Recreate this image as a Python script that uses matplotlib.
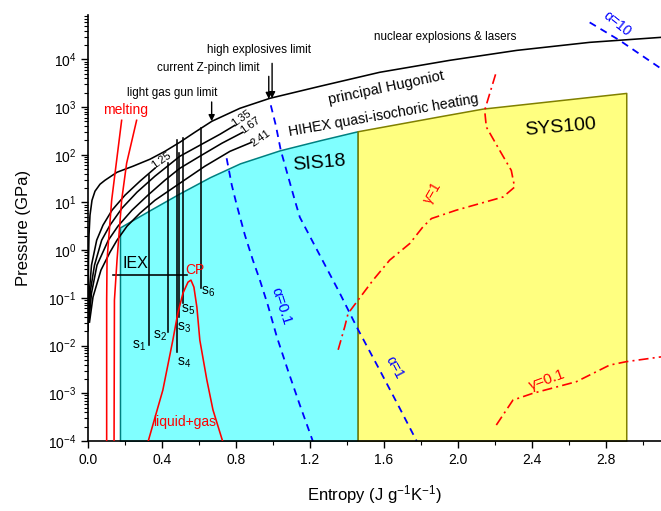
import matplotlib
matplotlib.use('Agg')
import matplotlib.pyplot as plt
from matplotlib.ticker import LogLocator, MultipleLocator, NullFormatter

plt.rcParams['font.family'] = ['Liberation Sans', 'DejaVu Sans']
plt.rcParams['mathtext.fontset'] = 'custom'
plt.rcParams['mathtext.rm'] = 'Liberation Sans'
plt.rcParams['mathtext.it'] = 'Liberation Sans:italic'

# principal Hugoniot
hug_s = [0.001, 0.0016, 0.0027, 0.0054, 0.0108, 0.0216, 0.0378, 0.0649, 0.0919, 0.157, 0.243,
         0.335, 0.416, 0.497, 0.578, 0.670, 0.822, 0.984, 1.254, 1.578, 1.957, 2.319, 2.714, 3.10]
hug_p = [0.021, 0.0897, 0.618, 2.06, 5.41, 11.1, 17.2, 24.1, 29.2, 43, 57.4,
         80.5, 118, 183, 296, 503, 942, 1524, 2720, 5350, 9530, 15400, 22700, 28900]

# porous Hugoniots
h125_s = [0.0027, 0.0081, 0.0189, 0.047, 0.081, 0.130, 0.200, 0.281, 0.362]
h125_p = [0.0436, 0.145, 0.485, 1.62, 3.34, 6.89, 14.2, 27.9, 52.1]
h135_s = [0.0043, 0.0135, 0.0351, 0.074, 0.119, 0.184, 0.265, 0.362, 0.497, 0.605, 0.714, 0.795]
h135_p = [0.0377, 0.145, 0.485, 1.62, 3.34, 7.59, 16.4, 35.5, 93, 158, 269, 415]
h167_s = [0.0054, 0.0189, 0.0486, 0.110, 0.162, 0.238, 0.324, 0.416, 0.497, 0.605, 0.724, 0.838]
h167_p = [0.0342, 0.1256, 0.485, 1.62, 3.18, 6.89, 14.2, 29.2, 52.1, 93, 174, 296]
h241_s = [0.0081, 0.027, 0.070, 0.119, 0.157, 0.211, 0.281, 0.362, 0.497, 0.632, 0.768, 0.886]
h241_p = [0.031, 0.104, 0.381, 0.908, 1.62, 3.18, 5.96, 11.1, 25.3, 57.4, 118, 183]

# isentropes s1..s6 (entropy, bottom, top)
isen_s = [0.331, 0.431, 0.494, 0.483, 0.512, 0.609]
isen_lo = [0.0102, 0.0195, 0.040, 0.0074, 0.0776, 0.16]
isen_hi = [37, 66, 107, 201, 222, 359]
isen_lab = ['1', '2', '3', '4', '5', '6']
isen_lab_s = [0.276, 0.389, 0.519, 0.519, 0.540, 0.649]
isen_lab_p = [0.0098, 0.0158, 0.0232, 0.0044, 0.055, 0.135]

# melting curves
melt1_s = [0.101, 0.101, 0.103, 0.128, 0.155, 0.182]
melt1_p = [1e-4, 0.0897, 0.618, 11.1, 76.7, 527]
melt2_s = [0.141, 0.143, 0.157, 0.182, 0.209, 0.263]
melt2_p = [1e-4, 0.0897, 0.618, 11.1, 66.4, 527]

# liquid-gas dome
dome_s = [0.326, 0.405, 0.459, 0.486, 0.514, 0.541, 0.557, 0.573, 0.589, 0.605, 0.643, 0.676, 0.728]
dome_p = [1e-4, 1.17e-3, 0.013, 0.048, 0.126, 0.214, 0.236, 0.168, 0.064, 0.013, 1.9e-3, 4.5e-4, 1e-4]

# IEX
iex_s = [0.135, 0.535]
iex_p = [0.30, 0.30]

# SIS18 and SYS100 regions (top = HIHEX quasi-isochoric heating)
sis_s = [0.173, 0.335, 0.497, 0.659, 0.822, 1.038, 1.254, 1.459]
sis_p = [3.0, 6.9, 15.6, 33.8, 66, 124, 201, 311]
sys_s = [1.459, 1.903, 2.135, 2.912]
sys_p = [311, 640, 927, 1977]

# alpha lines
a01_s = [0.750, 0.778, 0.805, 0.849, 0.892, 0.930, 0.973, 1.022, 1.081, 1.146, 1.216]
a01_p = [84.5, 23, 8.75, 2.06, 0.618, 0.235, 0.0705, 0.0151, 3.07e-3, 5.7e-4, 1e-4]
a1_s = [0.989, 1.016, 1.043, 1.081, 1.119, 1.146, 1.254, 1.362, 1.454, 1.578, 1.686, 1.778]
a1_p = [1089, 415, 124, 37, 11.1, 4.9, 0.785, 0.126, 0.0244, 3.07e-3, 4.9e-4, 1e-4]
a10_s = [2.714, 2.876, 3.10]
a10_p = [59500, 25000, 6400]

# gamma lines
g1_s = [2.205, 2.146, 2.155, 2.227, 2.290, 2.308, 2.245, 1.993, 1.858, 1.812, 1.741, 1.632, 1.542, 1.461, 1.407, 1.389, 1.353]
g1_p = [4850, 855, 382, 124, 47, 21, 13, 6.9, 4.6, 3.08, 1.38, 0.618, 0.235, 0.0897, 0.047, 0.0248, 8.05e-3]
g01_s = [2.209, 2.299, 2.407, 2.642, 2.822, 2.912, 3.10]
g01_p = [2.16e-4, 7.2e-4, 1.0e-3, 1.75e-3, 3.9e-3, 4.6e-3, 5.8e-3]

# limits (entropy, arrow start, arrow tip)
lim_s = [0.669, 0.978, 0.996]
lim_from = [1277, 4400, 8240]
lim_to = [505, 1480, 1530]

fig = plt.figure(figsize=(6.61, 5.11), dpi=100)
ax = fig.add_axes([88 / 661, 70 / 511, 1 - 88 / 661, (441 - 15) / 511])
ax.set_yscale('log')
ax.set_xlim(0, 3.1)
ax.set_ylim(1e-4, 8.5e4)

ax.fill_between(sis_s, sis_p, 1e-4, facecolor='#80ffff', edgecolor='#008080', lw=1.1, zorder=1)
ax.fill_between(sys_s, sys_p, 1e-4, facecolor='#ffff80', edgecolor='#808000', lw=1.1, zorder=1)

k = dict(color='black', lw=1.15, zorder=3)
ax.plot(hug_s, hug_p, **k)
for s, p in [(h125_s, h125_p), (h135_s, h135_p), (h167_s, h167_p), (h241_s, h241_p)]:
    ax.plot(s, p, **k)
for s, lo, hi in zip(isen_s, isen_lo, isen_hi):
    ax.plot([s, s], [lo, hi], **k)
ax.plot(iex_s, iex_p, **k)

ax.plot(melt1_s, melt1_p, color='red', lw=1.15, zorder=3)
ax.plot(melt2_s, melt2_p, color='red', lw=1.15, zorder=3)
ax.plot(dome_s, dome_p, color='red', lw=1.15, zorder=3)

bd = dict(color='#0000ff', lw=1.3, ls=(0, (4, 3)), zorder=2)
ax.plot(a01_s, a01_p, **bd)
ax.plot(a1_s, a1_p, **bd)
ax.plot(a10_s, a10_p, **bd)
rd = dict(color='red', lw=1.2, ls=(0, (6, 2.5, 1.2, 2.5)), zorder=2)
ax.plot(g1_s, g1_p, **rd)
ax.plot(g01_s, g01_p, **rd)

for s, a, b in zip(lim_s, lim_from, lim_to):
    ax.annotate('', xy=(s, b), xytext=(s, a),
                arrowprops=dict(arrowstyle='-|>', color='black', lw=1, mutation_scale=9, shrinkA=0, shrinkB=0))

ax.text(1.935, 28900, 'nuclear explosions & lasers', fontsize=8.4, ha='center', va='center')
ax.text(0.924, 15400, 'high explosives limit', fontsize=8.4, ha='center', va='center')
ax.text(0.649, 6480, 'current Z-pinch limit', fontsize=8.4, ha='center', va='center')
ax.text(0.454, 1940, 'light gas gun limit', fontsize=8.4, ha='center', va='center')
ax.text(1.611, 2470, 'principal Hugoniot', fontsize=10.5, ha='center', va='center', rotation=12)
ax.text(1.60, 671, 'HIHEX quasi-isochoric heating', fontsize=10.2, ha='center', va='center', rotation=10)
ax.text(1.249, 66, 'SIS18', fontsize=14, ha='center', va='center', rotation=5)
ax.text(2.557, 377, 'SYS100', fontsize=14, ha='center', va='center', rotation=5)
ax.text(0.254, 0.535, 'IEX', fontsize=11.5, ha='center', va='center')
ax.text(0.578, 0.38, 'CP', fontsize=10, ha='center', va='center', color='red')
ax.text(0.524, 2.5e-4, 'liquid+gas', fontsize=10, ha='center', va='center', color='red')
ax.text(0.203, 855, 'melting', fontsize=10, ha='center', va='center', color='red')
for lab, s, p in zip(isen_lab, isen_lab_s, isen_lab_p):
    ax.text(s, p, r'$\mathregular{s_{%s}}$' % lab, fontsize=10, ha='center', va='center')
ax.text(0.398, 77, '1.25', fontsize=8, ha='center', va='center', rotation=35)
ax.text(0.830, 573, '1.35', fontsize=8, ha='center', va='center', rotation=35)
ax.text(0.876, 415, '1.67', fontsize=8, ha='center', va='center', rotation=35)
ax.text(0.933, 218, '2.41', fontsize=8, ha='center', va='center', rotation=35)
ax.text(1.046, 0.067, 'α=0.1', fontsize=11, ha='center', va='center', rotation=-72, color='#0000ff')
ax.text(1.659, 3.5e-3, 'α=1', fontsize=10, ha='center', va='center', rotation=-62, color='#0000ff')
ax.text(2.862, 55000, 'α=10', fontsize=10, ha='center', va='center', rotation=-39, color='#0000ff')
ax.text(1.865, 16.4, 'γ=1', fontsize=10, ha='center', va='center', rotation=60, color='red')
ax.text(2.484, 1.9e-3, 'γ=0.1', fontsize=11, ha='center', va='center', rotation=20, color='red')

ax.spines['top'].set_visible(False)
ax.spines['right'].set_visible(False)
ax.xaxis.set_major_locator(MultipleLocator(0.4))
ax.xaxis.set_minor_locator(MultipleLocator(0.2))
ax.xaxis.set_major_formatter(plt.FuncFormatter(lambda v, pos: '%.1f' % v))
ax.yaxis.set_major_locator(LogLocator(base=10, numticks=20))
ax.yaxis.set_minor_locator(LogLocator(base=10, subs=[2, 3, 4, 5, 6, 7, 8, 9], numticks=20))
ax.yaxis.set_minor_formatter(NullFormatter())
ax.tick_params(which='major', direction='out', length=5, width=1, labelsize=10)
ax.tick_params(which='minor', direction='out', length=3, width=0.8)
for sp in ['left', 'bottom']:
    ax.spines[sp].set_linewidth(1.2)
ax.set_xlabel('Entropy (J g$^{-1}$K$^{-1}$)', fontsize=12, labelpad=12)
ax.set_ylabel('Pressure (GPa)', fontsize=12, labelpad=12)

fig.savefig('out.png', dpi=100)
